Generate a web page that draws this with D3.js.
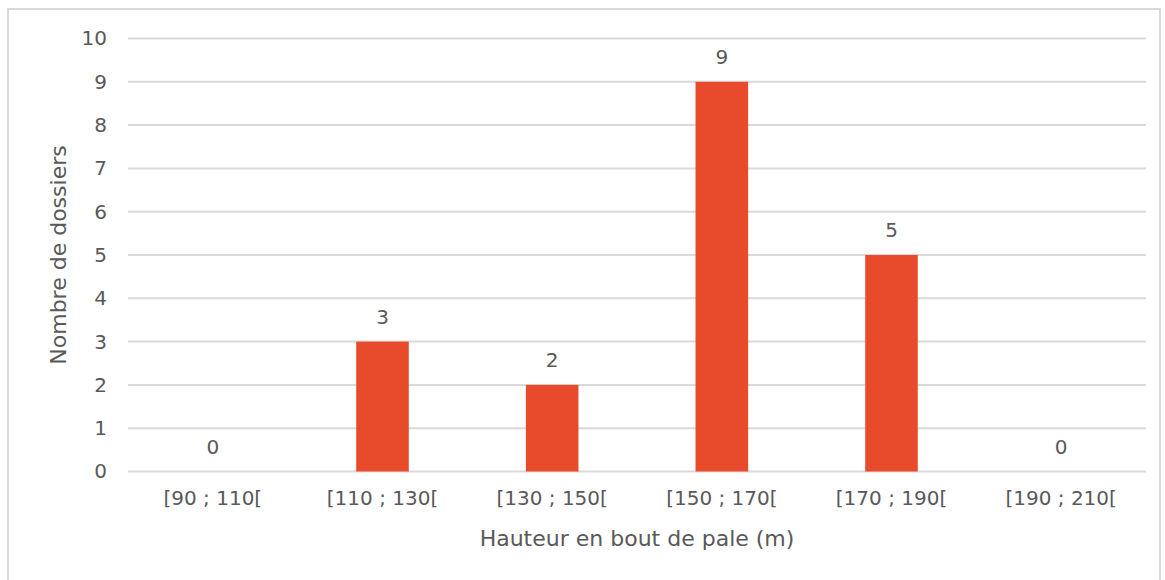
<!DOCTYPE html>
<html>
<head>
<meta charset="utf-8">
<script src="https://cdn.jsdelivr.net/npm/d3@7"></script>
<style>
body { margin: 0; background: #fff; }
text { font-family: "DejaVu Sans", sans-serif; fill: #595959; }
</style>
</head>
<body>
<svg width="1165" height="580"></svg>
<script>
var categories = ["[90 ; 110[", "[110 ; 130[", "[130 ; 150[", "[150 ; 170[", "[170 ; 190[", "[190 ; 210["];
var values = [0, 3, 2, 9, 5, 0];
var yTicks = [0, 1, 2, 3, 4, 5, 6, 7, 8, 9, 10];

var svg = d3.select("svg");

// chart frame
svg.append("rect")
	.attr("x", 8).attr("y", 9)
	.attr("width", 1152).attr("height", 580)
	.attr("fill", "none")
	.attr("stroke", "#d9d9d9")
	.attr("stroke-width", 2);

var plotLeft = 128, plotRight = 1146, plotTop = 38.5, plotBottom = 471.5;

var x = d3.scaleBand()
	.domain(categories)
	.range([plotLeft, plotRight])
	.paddingInner(0.69)
	.paddingOuter(0.345);

var xOuter = d3.scaleBand().domain(categories).range([plotLeft, plotRight]);

var y = d3.scaleLinear().domain([0, 10]).range([plotBottom, plotTop]);

// gridlines
svg.append("g")
	.selectAll("line")
	.data(yTicks)
	.enter()
	.append("line")
	.attr("x1", plotLeft).attr("x2", plotRight)
	.attr("y1", function(d) { return y(d); })
	.attr("y2", function(d) { return y(d); })
	.attr("stroke", "#d9d9d9")
	.attr("stroke-width", 2);

// y axis labels
var yAxis = svg.append("g")
	.attr("transform", "translate(" + (plotLeft - 21) + ",0)")
	.call(d3.axisLeft(y).tickValues(yTicks).tickSize(0).tickPadding(0));
yAxis.select(".domain").remove();
yAxis.selectAll("text")
	.attr("font-size", 20)
	.style("font-family", "DejaVu Sans, sans-serif")
	.attr("fill", "#595959");

// x axis labels
var xAxis = svg.append("g")
	.attr("transform", "translate(0," + plotBottom + ")")
	.call(d3.axisBottom(xOuter).tickSize(0).tickPadding(19));
xAxis.select(".domain").remove();
xAxis.selectAll("text")
	.attr("font-size", 20)
	.style("font-family", "DejaVu Sans, sans-serif")
	.attr("fill", "#595959");

// bars
svg.append("g")
	.selectAll("rect")
	.data(values)
	.enter()
	.append("rect")
	.attr("x", function(d, i) { return x(categories[i]); })
	.attr("y", function(d) { return y(d); })
	.attr("width", x.bandwidth())
	.attr("height", function(d) { return y(0) - y(d); })
	.attr("fill", "#e84b2c");

// value labels
svg.append("g")
	.selectAll("text")
	.data(values)
	.enter()
	.append("text")
	.attr("x", function(d, i) { return x(categories[i]) + x.bandwidth() / 2; })
	.attr("y", function(d) { return y(d) - 18; })
	.attr("text-anchor", "middle")
	.attr("font-size", 20)
	.text(function(d) { return d; });

// axis titles
svg.append("text")
	.attr("x", 637)
	.attr("y", 546)
	.attr("text-anchor", "middle")
	.attr("font-size", 22)
	.text("Hauteur en bout de pale (m)");

svg.append("text")
	.attr("transform", "translate(66,255) rotate(-90)")
	.attr("text-anchor", "middle")
	.attr("font-size", 22)
	.text("Nombre de dossiers");
</script>
</body>
</html>
